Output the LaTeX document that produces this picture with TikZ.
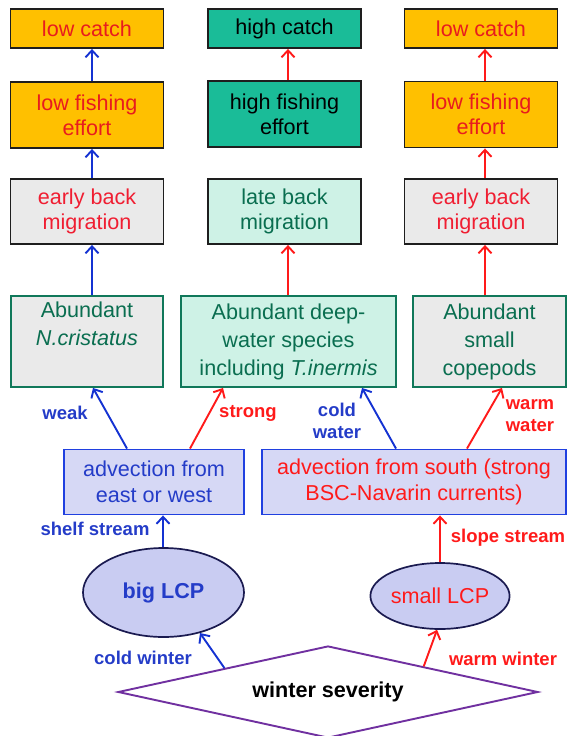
\documentclass[tikz,border=0pt]{standalone}
\usepackage{fontspec}
\setmainfont{Liberation Sans}
\usetikzlibrary{shapes.geometric,arrows.meta}
\definecolor{amber}{RGB}{255,192,0}
\definecolor{tealfill}{RGB}{26,188,152}
\definecolor{lteal}{RGB}{206,242,230}
\definecolor{lgray}{RGB}{234,234,234}
\definecolor{boxline}{RGB}{30,30,30}
\definecolor{greenline}{RGB}{16,120,90}
\definecolor{greentxt}{RGB}{10,110,80}
\definecolor{redtxt}{RGB}{232,28,30}
\definecolor{pinkred}{RGB}{240,30,50}
\definecolor{advfill}{RGB}{214,216,245}
\definecolor{advline}{RGB}{32,64,224}
\definecolor{bluetxt}{RGB}{36,60,200}
\definecolor{arrblue}{RGB}{20,50,210}
\definecolor{arrred}{RGB}{255,26,26}
\definecolor{ellfill}{RGB}{201,204,242}
\definecolor{ellline}{RGB}{26,26,80}
\definecolor{dpurple}{RGB}{112,48,160}
\begin{document}
\begin{tikzpicture}[x=1pt,y=-1pt,
  box/.style={draw=boxline, line width=1.9pt, minimum width=153pt, inner sep=0pt,
    align=center, font=\fontsize{21.6}{25}\selectfont},
  catchbox/.style={box, minimum height=39pt},
  effbox/.style={box, minimum height=66pt},
  migbox/.style={box, minimum height=65pt},
  abbox/.style={draw=greenline, line width=1.9pt, inner sep=0pt, align=center,
    minimum height=91pt, text=greentxt, font=\fontsize{21.6}{28}\selectfont},
  advbox/.style={draw=advline, fill=advfill, line width=1.9pt, inner sep=0pt,
    align=center, minimum height=65pt, font=\fontsize{21.6}{26}\selectfont},
  lcp/.style={ellipse, draw=ellline, fill=ellfill, line width=1.7pt, inner sep=0pt,
    font=\fontsize{21.6}{26}\selectfont},
  arr/.style={line width=1.9pt, -{Straight Barb[length=7pt,width=13pt]}},
  barr/.style={arr, draw=arrblue},
  rarr/.style={arr, draw=arrred},
  blab/.style={text=bluetxt, font=\fontsize{18.5}{22}\selectfont\bfseries, align=center, inner sep=0pt},
  rlab/.style={text=arrred, font=\fontsize{18.5}{22}\selectfont\bfseries, align=center, inner sep=0pt}]
\useasboundingbox (0,0) rectangle (567,736);

% row 1
\node[catchbox, fill=amber, text=redtxt] (c1) at (87,28.5) {low catch};
\node[catchbox, fill=tealfill, text=black] (c2) at (284.5,28.5) {high catch};
\node[catchbox, fill=amber, text=redtxt] (c3) at (481,28.5) {low catch};
% row 2
\node[effbox, fill=amber, text=redtxt] (e1) at (87,115) {low fishing\\effort};
\node[effbox, fill=tealfill, text=black] (e2) at (284.5,114) {high fishing\\effort};
\node[effbox, fill=amber, text=redtxt] (e3) at (481,114.5) {low fishing\\effort};
% row 3
\node[migbox, fill=lgray, text=pinkred] (m1) at (87,211.5) {early back\\migration};
\node[migbox, fill=lteal, text=greentxt] (m2) at (284.5,211.5) {late back\\migration};
\node[migbox, fill=lgray, text=pinkred] (m3) at (481,211.5) {early back\\migration};
% row 4
\node[abbox, fill=lgray, minimum width=152pt] (a1) at (87,341.5) {Abundant\\\textit{N.cristatus}\\\strut};
\node[abbox, fill=lteal, minimum width=215pt] (a2) at (288.5,341.5) {Abundant deep-\\water species\\including \textit{T.inermis}};
\node[abbox, fill=lgray, minimum width=153pt] (a3) at (489.5,341.5) {Abundant\\small\\copepods};
% row 5
\node[advbox, minimum width=180pt, text=bluetxt] (v1) at (154,482) {advection from\\east or west};
\node[advbox, minimum width=304pt, text=arrred] (v2) at (414,482) {advection from south (strong\\BSC-Navarin currents)};
% LCP
\node[lcp, minimum width=161pt, minimum height=89pt, text=bluetxt, font=\fontsize{21.6}{26}\selectfont\bfseries] (big) at (163.5,592.5) {big LCP};
\node[lcp, minimum width=126pt, minimum height=66pt, text=arrred] (small) at (440,596) {small LCP};
% diamond
\node[diamond, shape aspect=4.5, draw=dpurple, fill=white, line width=1.9pt, inner sep=0pt,
  minimum width=420pt, minimum height=92pt, font=\fontsize{21.6}{26}\selectfont\bfseries] (sev) at (328,692) {winter severity};

% arrows column 1
\draw[barr] ([xshift=5pt]e1.north) -- ([xshift=5pt]c1.south);
\draw[barr] ([xshift=5pt]m1.north) -- ([xshift=5pt]e1.south);
\draw[barr] ([xshift=5pt]a1.north) -- ([xshift=5pt]m1.south);
% column 2
\draw[rarr] ([xshift=3.5pt]e2.north) -- ([xshift=3.5pt]c2.south);
\draw[rarr] ([xshift=-0.5pt]a2.north) -- ([xshift=3.5pt]m2.south);
% column 3
\draw[rarr] ([xshift=4pt]e3.north) -- ([xshift=4pt]c3.south);
\draw[rarr] ([xshift=4pt]m3.north) -- ([xshift=4pt]e3.south);
\draw[rarr] ([xshift=-4.5pt]a3.north) -- ([xshift=4pt]m3.south);
% advection to abundant
\draw[barr] ([xshift=-27pt]v1.north) -- ([xshift=6pt]a1.south);
\draw[rarr] ([xshift=36pt]v1.north) -- ([xshift=-65.5pt]a2.south);
\draw[barr] ([xshift=-18pt]v2.north) -- ([xshift=73.5pt]a2.south);
\draw[rarr] ([xshift=53pt]v2.north) -- ([xshift=12.5pt]a3.south);
% LCP to advection
\draw[barr] ([xshift=-0.5pt]big.north) -- ([xshift=-0.5pt]big.north |- v1.south);
\draw[rarr] (small.north) -- (small.north |- v2.south);
% severity to LCP
\draw[barr] (sev.167.6) -- (big.-48);
\draw[rarr] (sev.15) -- (small.-95);

% labels
\node[blab] (lweak) at (65,413) {weak};
\node[rlab] (lstrong) at (248,413) {strong};
\node[blab] (lcold) at (337,421) {cold\\water};
\node[rlab] (lwarm) at (530,416) {warm\\water};
\node[blab] (lshelf) at (95,529) {shelf stream};
\node[rlab] (lslope) at (508,538) {slope stream};
\node[blab] (lcw) at (143,658) {cold winter};
\node[rlab] (lww) at (503,659) {warm winter};
\end{tikzpicture}
\end{document}
